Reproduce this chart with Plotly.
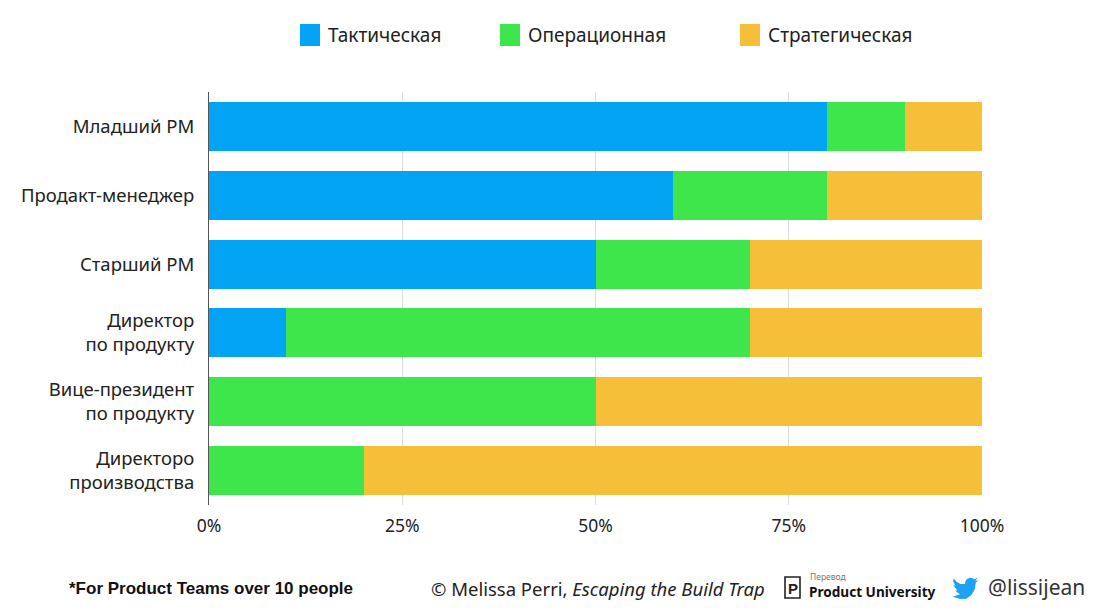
import plotly.graph_objects as go

# roles top to bottom, share of work in % (tactical / operational / strategic)
roles = [
    "Младший PM",
    "Продакт-менеджер",
    "Старший PM",
    "Директор<br>по продукту",
    "Вице-президент<br>по продукту",
    "Директоро<br>производства",
]
tactical = [80, 60, 50, 10, 0, 0]
operational = [10, 20, 20, 60, 50, 20]
strategic = [10, 20, 30, 30, 50, 80]

series_names = ["Тактическая", "Операционная", "Стратегическая"]
colors = ["#03a4f4", "#3ee64b", "#f6bf3a"]
tick_vals = [0, 25, 50, 75, 100]
tick_text = ["0%", "25%", "50%", "75%", "100%"]

W, H = 1100, 610
OFF = 8  # page body margin
L, R, T, B = 209 - OFF, W - 982 + OFF, 92 - OFF, H - 505 + OFF
PW, PH = W - L - R, H - T - B


def px(x, y):
    # screen pixel position -> paper coords
    return (x - OFF - L) / PW, (H - B - (y - OFF)) / PH


fig = go.Figure()
for name, vals, col in zip(series_names, [tactical, operational, strategic], colors):
    fig.add_trace(go.Bar(
        y=roles, x=vals, name=name, orientation="h",
        marker=dict(color=col, line=dict(width=0)),
        width=0.71, showlegend=False,
    ))

shapes = []
annotations = []

# legend drawn by hand (big square swatches)
legend_x = [300, 500, 740]
for name, col, lx in zip(series_names, colors, legend_x):
    x0, y0 = px(lx, 24)
    x1, y1 = px(lx + 20, 46)
    shapes.append(dict(type="rect", xref="paper", yref="paper", x0=x0, x1=x1,
                       y0=y1, y1=y0, fillcolor=col, line=dict(width=0)))
    ax, ay = px(lx + 26, 35)
    annotations.append(dict(text=name, xref="paper", yref="paper", x=ax, y=ay,
                            xanchor="left", yanchor="middle", showarrow=False,
                            font=dict(size=19, color="#222")))

# footer
fx, fy = px(67, 588)
annotations.append(dict(text="<b>*For Product Teams over 10 people</b>", xref="paper",
                        yref="paper", x=fx, y=fy, xanchor="left", yanchor="middle",
                        showarrow=False,
                        font=dict(family="Liberation Sans", size=17, color="#111")))
fx, fy = px(429, 588)
annotations.append(dict(text="© Melissa Perri, <i>Escaping the Build Trap</i>", xref="paper",
                        yref="paper", x=fx, y=fy, xanchor="left", yanchor="middle",
                        showarrow=False, font=dict(size=18.5, color="#222")))

# "P" logo
x0, y0 = px(785, 577)
x1, y1 = px(800, 598)
shapes.append(dict(type="rect", xref="paper", yref="paper", x0=x0, x1=x1, y0=y1, y1=y0,
                   line=dict(color="#222", width=1.6)))
fx, fy = px(792.5, 588)
annotations.append(dict(text="<b>P</b>", xref="paper", yref="paper", x=fx, y=fy,
                        xanchor="center", yanchor="middle", showarrow=False,
                        font=dict(family="Liberation Sans", size=15, color="#222")))
fx, fy = px(808, 576)
annotations.append(dict(text="Перевод", xref="paper", yref="paper", x=fx, y=fy,
                        xanchor="left", yanchor="middle", showarrow=False,
                        font=dict(size=8.5, color="#777")))
fx, fy = px(807, 591)
annotations.append(dict(text="<b>Product University</b>", xref="paper", yref="paper",
                        x=fx, y=fy, xanchor="left", yanchor="middle", showarrow=False,
                        font=dict(size=13.6, color="#111")))

# twitter bird outline (24-unit box)
bird = [(23.95, 4.57), (21.13, 5.35), (23.29, 2.62), (20.16, 3.81), (18.8, 3.0),
        (16.4, 2.5), (14.0, 3.4), (12.3, 5.5), (11.9, 7.5), (11.78, 8.29),
        (7.69, 8.1), (4.07, 6.13), (1.64, 3.16), (0.97, 5.64), (3.16, 9.73),
        (0.93, 9.12), (0.93, 9.18), (4.88, 14.0), (2.67, 14.09), (7.27, 17.51),
        (1.17, 19.62), (0.0, 19.55), (7.56, 21.76), (13.0, 21.5), (17.5, 18.5),
        (20.5, 13.5), (21.55, 7.78), (21.54, 7.15), (24.0, 4.59)]
pts = [px(952 + u * 1.1, 575 + v * 1.1) for u, v in bird]
path = "M " + " L ".join(f"{a:.5f},{b:.5f}" for a, b in pts) + " Z"
shapes.append(dict(type="path", xref="paper", yref="paper", path=path,
                   fillcolor="#1da1f2", line=dict(width=0)))
fx, fy = px(986, 587)
annotations.append(dict(text="@lissijean", xref="paper", yref="paper", x=fx, y=fy,
                        xanchor="left", yanchor="middle", showarrow=False,
                        font=dict(size=21, color="#333")))

fig.update_layout(
    width=W, height=H,
    margin=dict(l=L, r=R, t=T, b=B, autoexpand=False),
    barmode="stack",
    bargap=0.29,
    paper_bgcolor="white",
    plot_bgcolor="white",
    font=dict(family="Noto Sans", size=18.5, color="#222"),
    shapes=shapes,
    annotations=annotations,
    xaxis=dict(
        range=[0, 100], tickvals=tick_vals, ticktext=tick_text,
        showgrid=True, gridcolor="#dddddd", gridwidth=1,
        zeroline=False, showline=False, ticks="", ticklabelstandoff=8,
        tickfont=dict(size=17.5, color="#222"),
    ),
    yaxis=dict(
        categoryorder="array", categoryarray=roles, autorange="reversed",
        showline=True, linecolor="#555", linewidth=1.2,
        showgrid=False, ticks="", ticklabelstandoff=10,
        tickfont=dict(size=18.5, color="#222"),
    ),
)

fig.write_html("out.html")
